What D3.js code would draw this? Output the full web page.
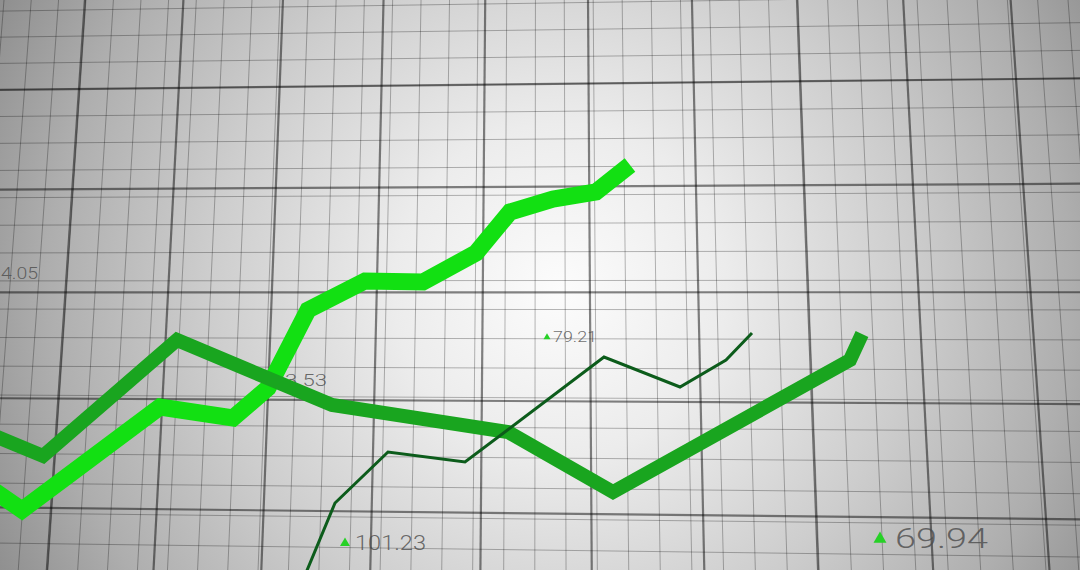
<!DOCTYPE html>
<html><head><meta charset="utf-8">
<script src="https://cdn.jsdelivr.net/npm/d3@7/dist/d3.min.js"></script>
<style>html,body{margin:0;padding:0;overflow:hidden;background:#ccc}svg{display:block}</style>
</head><body>
<svg id="chart" width="1080" height="570"></svg>
<script>
// ---- data ----
const timeA   = [-1, 2.2, 16, 23.3, 26.8, 30.8, 36.5, 42.3, 47.6, 51, 55.3, 59.6, 63];
const seriesA = [16.4, 12, 32.6, 30.4, 36.4, 52, 57.8, 57.6, 63.4, 71.6, 74.2, 75.6, 81];
const timeB   = [-1, 4.3, 17.7, 33.2, 50.8, 61.3, 85, 86.2];
const seriesB = [27.2, 22.8, 46, 33, 27.6, 15.6, 42, 47.2];
const timeC   = [30.3, 33.5, 38.8, 46.5, 60.4, 68, 72.6, 75.2];
const seriesC = [-2, 13.4, 23.6, 21.6, 42.6, 36.6, 42, 47.4];
const labelText = ["4.05", "3.53", "79.21", "101.23", "69.94"];
const labelUp   = [false, false, true, true, true];
const labelAtX  = [0.1, 28.5, 55.3, 35.5, 89.5];
const labelAtY  = [58.2, 36.8, 45.6, 4, 4.4];
// grid: major columns / rows (index)
const gridCols = d3.range(-2, 12);
const gridRows = d3.range(-2, 7);

// ---- layout / styles ----
const W = 1080, H = 570;
const labelSize  = [16, 16, 15, 21, 28];
const labelWidth = [37, 42, 44, 71, 93];
const triSize    = [0, 0, 7, 10, 13];
const triGap     = [0, 0, 6, 10, 15];

const svg = d3.select("#chart");
const x = d3.scaleLinear().domain([0, 108]).range([0, W]);
const y = d3.scaleLinear().domain([0, 114]).range([H, 0]);

// background
const defs = svg.append("defs");
const rg = defs.append("radialGradient").attr("id", "bg")
  .attr("gradientUnits", "userSpaceOnUse").attr("cx", 560).attr("cy", 290).attr("r", 640);
[[0, "#fcfcfc"], [0.26, "#ececec"], [0.55, "#cdcdcd"], [0.8, "#aeaeae"], [1, "#8c8c8c"]]
  .forEach(([o, c]) => rg.append("stop").attr("offset", o).attr("stop-color", c));
svg.append("rect").attr("width", W).attr("height", H).attr("fill", "url(#bg)");

// perspective grid (homography from grid units to screen)
const quad = [[79, 89], [1016, 79], [1046, 519], [51, 508]]; // corners of 9x4 major cells
function homography(q) {
  const [x0, y0] = q[0], [x1, y1] = q[1], [x2, y2] = q[2], [x3, y3] = q[3];
  const sx = x0 - x1 + x2 - x3, sy = y0 - y1 + y2 - y3;
  const dx1 = x1 - x2, dx2 = x3 - x2, dy1 = y1 - y2, dy2 = y3 - y2;
  const den = dx1 * dy2 - dx2 * dy1;
  const g = (sx * dy2 - dx2 * sy) / den, h = (dx1 * sy - sx * dy1) / den;
  const a = x1 - x0 + g * x1, b = x3 - x0 + h * x3, c = x0;
  const d = y1 - y0 + g * y1, e = y3 - y0 + h * y3, f = y0;
  return (u, v) => { u /= 9; v /= 4; const w = g * u + h * v + 1;
    return [(a * u + b * v + c) / w, (d * u + e * v + f) / w]; };
}
const P = homography(quad);
const gridG = svg.append("g");
const line2 = d3.line();
function gline(pts, cls) {
  gridG.append("path").attr("d", line2(pts)).attr("fill", "none")
    .attr("stroke", "#000")
    .attr("stroke-opacity", cls === "major" ? 0.48 : 0.28)
    .attr("stroke-width", cls === "major" ? 2.2 : 1);
}
const vMin = -1.5, vMax = 6.5, uMin = -1.5, uMax = 11.5;
for (let u = uMin + 0.11; u <= uMax; u += 0.28) gline([P(u, vMin), P(u, vMax)], "minor");
for (let v = -1.35; v <= vMax; v += 0.27) gline([P(uMin, v), P(uMax, v)], "minor");
gridCols.forEach(u => gline([P(u, vMin), P(u, vMax)], "major"));
gridRows.forEach(v => gline([P(uMin, v), P(uMax, v)], "major"));

// labels
const labG = svg.append("g");
labelText.forEach((t, i) => {
  const lx = x(labelAtX[i]), ly = y(labelAtY[i]);
  labG.append("text").attr("x", lx).attr("y", ly).text(t)
    .attr("font-family", "Roboto, 'DejaVu Sans', sans-serif")
    .attr("font-weight", 300)
    .attr("font-size", labelSize[i])
    .attr("textLength", labelWidth[i]).attr("lengthAdjust", "spacingAndGlyphs")
    .attr("fill", "#4a4a4a").attr("fill-opacity", 0.8);
  if (labelUp[i]) {
    const s = triSize[i], cx = lx - triGap[i], cy = ly - labelSize[i] * 0.36;
    labG.append("path")
      .attr("d", d3.symbol(d3.symbolTriangle, s * s * 0.43)())
      .attr("transform", `translate(${cx},${cy + s * 0.08})`)
      .attr("fill", "#27d127");
  }
});

// series lines
const lineGen = d3.line().x(d => x(d[0])).y(d => y(d[1]));
function series(t, v, color, width) {
  svg.append("path").datum(d3.zip(t, v)).attr("d", lineGen)
    .attr("fill", "none").attr("stroke", color).attr("stroke-width", width)
    .attr("stroke-linejoin", "miter").attr("stroke-linecap", "butt");
}
series(timeA, seriesA, "#12e012", 17);
series(timeB, seriesB, "#19a51f", 14);
series(timeC, seriesC, "#0c5c1b", 3);
</script>
</body></html>
